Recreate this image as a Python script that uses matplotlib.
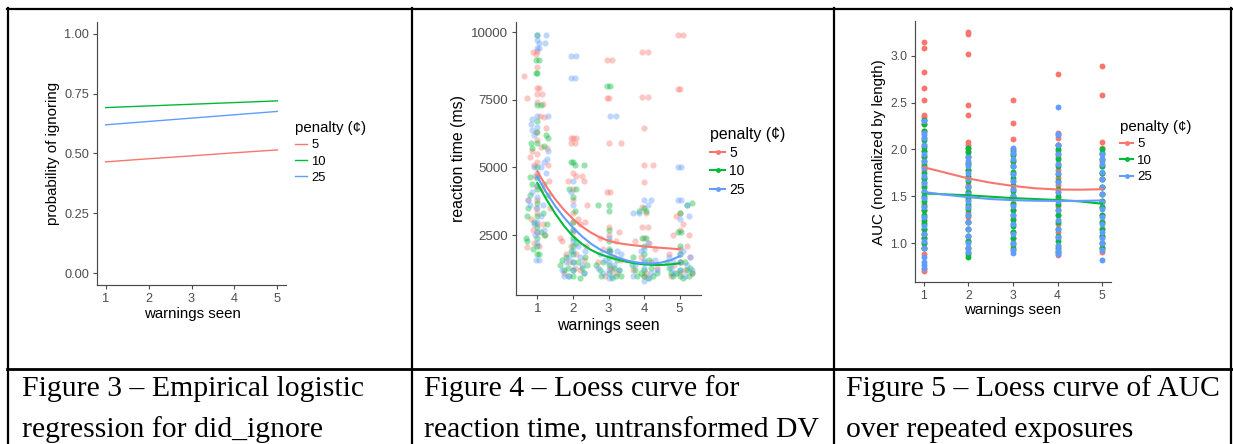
import matplotlib
matplotlib.use("Agg")
import matplotlib.pyplot as plt
import matplotlib.transforms as mtransforms
from matplotlib.lines import Line2D
import numpy as np

W, H = 1233, 444

# ---------------- data ----------------
warnings = [1, 2, 3, 4, 5]
penalties = ["5", "10", "25"]
colors = {"5": "#F8766D", "10": "#00BA38", "25": "#619CFF"}

# Figure 3: empirical logistic regression (probability of ignoring)
prob_ignore = {
    "5":  [0.465, 0.478, 0.490, 0.503, 0.515],
    "10": [0.692, 0.699, 0.706, 0.713, 0.720],
    "25": [0.620, 0.634, 0.648, 0.662, 0.676],
}

# Figure 4: reaction time scatter (jittered warnings seen, ms)
rt_points = {
    "5": [
        (0.62, 8380), (0.72, 7550), (0.88, 9270), (0.95, 9200), (1.0, 9300), (1.0, 7950), (1.0, 7700),
        (1.0, 7400), (1.05, 7950), (1.13, 7700), (1.15, 7350), (1.2, 6850), (1.25, 6450), (1.0, 6000),
        (1.0, 5500), (1.0, 5200), (1.0, 4800), (1.0, 4300), (1.0, 3800), (1.0, 3300), (1.0, 2900),
        (1.0, 2600), (0.8, 5400), (0.85, 5600), (0.9, 5100), (0.92, 4700), (1.1, 5750), (1.27, 5700),
        (1.3, 5100), (1.32, 4500), (0.75, 3800), (0.83, 3100), (0.7, 2050), (0.9, 2200), (1.15, 2900),
        (1.2, 2500), (1.35, 3500), (1.12, 4200), (0.95, 6300), (1.08, 6900), (1.0, 8700), (0.97, 3500),
        (0.88, 2700), (1.05, 2100),
        (1.95, 6100), (2.0, 6100), (2.1, 6100), (1.95, 5900), (2.05, 5900), (2.0, 4800), (2.1, 4700),
        (2.25, 4700), (2.3, 4500), (1.85, 4500), (2.0, 4200), (2.0, 3800), (2.0, 3300), (2.0, 3000),
        (2.15, 3100), (2.2, 2900), (2.35, 3000), (1.7, 2300), (1.65, 2400), (2.38, 2100), (2.4, 3600),
        (2.0, 2600), (1.8, 1800), (1.9, 1500), (2.05, 1300), (2.2, 1200), (2.3, 1600), (1.75, 1100),
        (2.1, 1800), (1.95, 2100),
        (2.95, 8950), (3.1, 8950), (2.95, 7550), (3.0, 7550), (3.0, 5900), (3.35, 5900), (2.95, 4100),
        (3.05, 4100), (3.0, 2800), (3.0, 2500), (2.75, 2400), (3.2, 2300), (3.3, 2600), (2.85, 2000),
        (3.0, 1900), (3.15, 1700), (2.7, 1500), (3.05, 1300), (3.25, 1100), (2.9, 1000), (3.35, 1600),
        (3.1, 1200),
        (3.95, 9250), (4.1, 9250), (3.95, 7600), (4.1, 7600), (4.0, 6450), (4.0, 5100), (4.25, 5100),
        (4.0, 4450), (3.95, 3550), (4.05, 3300), (3.95, 2800), (4.1, 2800), (4.0, 2400), (4.15, 2200),
        (3.75, 2300), (4.3, 2000), (3.9, 1700), (4.2, 1500), (3.7, 1200), (4.05, 1100), (4.35, 1300),
        (4.0, 1000),
        (4.95, 9900), (5.1, 9900), (4.95, 7900), (5.0, 7900), (5.0, 3300), (4.9, 3200), (5.1, 2900),
        (5.0, 2700), (5.25, 2500), (4.8, 2500), (5.2, 2100), (5.0, 2000), (4.7, 1800), (5.3, 1700),
        (5.05, 1500), (4.85, 1400), (5.15, 1200), (5.35, 1100), (4.75, 1000), (5.0, 1100),
    ],
    "10": [
        (1.0, 9900), (0.95, 8950), (1.05, 8950), (0.95, 8500), (1.0, 8500), (1.0, 7300), (1.1, 7300),
        (1.0, 6700), (1.0, 6300), (1.0, 5900), (1.25, 6200), (1.3, 6100), (1.2, 5800), (0.83, 5900),
        (0.85, 5700), (0.78, 4650), (0.85, 4400), (0.8, 4000), (0.75, 3500), (0.72, 3200), (0.68, 2400),
        (0.7, 2300), (1.0, 5000), (1.0, 4600), (1.0, 4200), (1.0, 3700), (1.0, 3200), (1.0, 2800),
        (1.0, 2400), (1.0, 2100), (1.0, 1800), (1.05, 1800), (1.1, 2600), (1.15, 3300), (1.3, 4000),
        (1.28, 2900), (1.22, 2500), (0.9, 3000), (0.88, 2000), (1.18, 4400),
        (2.0, 5200), (1.95, 5200), (2.05, 5100), (2.3, 5100), (2.1, 4200), (1.9, 4200), (2.0, 3900),
        (2.05, 3400), (2.0, 3000), (2.0, 2700), (2.0, 2400), (2.0, 2100), (2.0, 1800), (2.0, 1500),
        (2.0, 1200), (2.0, 1000), (1.7, 1600), (1.65, 1400), (1.75, 1200), (1.8, 1700), (1.85, 1300),
        (2.15, 1500), (2.25, 1300), (2.3, 1100), (2.2, 900), (1.9, 1000), (2.35, 1700), (2.1, 2200),
        (2.4, 1400), (1.95, 1900),
        (2.95, 8000), (3.05, 8000), (3.0, 3600), (2.7, 3600), (3.0, 3400), (3.0, 2700), (3.0, 2300),
        (3.0, 2000), (3.0, 1700), (3.0, 1400), (3.0, 1100), (2.75, 1200), (2.8, 1000), (3.15, 1300),
        (3.2, 1000), (3.3, 1200), (2.65, 1400), (3.25, 1600), (2.85, 1500), (3.1, 900), (3.35, 1000),
        (3.05, 1900),
        (4.0, 3500), (3.85, 3400), (4.05, 3400), (3.95, 2400), (4.05, 2400), (4.0, 2100), (4.0, 1800),
        (4.0, 1500), (4.0, 1200), (4.0, 1000), (3.7, 1700), (3.75, 1200), (3.8, 1000), (4.2, 1300),
        (4.25, 1000), (4.35, 1100), (4.15, 1600), (3.65, 1400), (4.1, 900), (3.9, 1100),
        (5.0, 3300), (5.35, 3700), (5.2, 3600), (4.95, 2600), (5.05, 2600), (5.0, 2100), (5.0, 1800),
        (5.0, 1500), (5.0, 1200), (5.0, 1000), (4.7, 1300), (4.75, 1100), (4.8, 1000), (5.2, 1200),
        (5.25, 1000), (5.35, 1100), (5.15, 1500), (4.65, 1500), (5.1, 900), (4.9, 1100), (5.3, 1300),
    ],
    "25": [
        (1.0, 9900), (1.0, 9700), (1.05, 9600), (1.0, 9400), (1.05, 9400), (1.25, 9900), (1.22, 9600),
        (0.85, 6800), (0.83, 6600), (0.85, 6400), (0.9, 6200), (1.0, 6900), (1.0, 6500), (1.3, 6900),
        (1.3, 5600), (1.28, 5300), (1.2, 5200), (1.1, 5000), (1.0, 4700), (1.0, 4300), (1.0, 3900),
        (1.0, 3500), (1.0, 3000), (1.0, 2600), (1.0, 2200), (0.95, 1600), (1.05, 1600), (0.85, 4100),
        (0.75, 3800), (0.8, 3600), (0.9, 2900), (0.92, 2500), (1.15, 3600), (1.1, 3200), (1.2, 2700),
        (1.25, 4800), (0.9, 5000),
        (1.95, 9100), (2.1, 9100), (1.95, 8300), (2.05, 8300), (2.0, 4500), (1.95, 4100), (2.0, 3600),
        (2.0, 2700), (2.0, 2300), (2.0, 1900), (2.0, 1500), (2.0, 1200), (1.75, 1000), (1.7, 1200),
        (1.8, 1500), (2.2, 1700), (2.25, 1400), (2.3, 1100), (2.15, 2100), (1.85, 1000), (2.35, 1900),
        (1.9, 1700),
        (3.05, 6900), (3.2, 6900), (3.0, 2400), (3.0, 1900), (3.0, 1500), (3.0, 1200), (3.0, 900),
        (2.75, 1800), (2.7, 1300), (3.15, 1400), (3.25, 1900), (3.3, 1200), (2.85, 1100), (3.35, 1800),
        (2.9, 1600), (3.1, 1000),
        (4.0, 3800), (4.2, 3800), (4.1, 3600), (3.7, 3300), (3.85, 3300), (4.0, 2000), (4.0, 1600),
        (4.0, 1300), (4.0, 800), (3.75, 1400), (3.7, 1000), (4.2, 1100), (4.3, 1600), (4.35, 1200),
        (3.9, 1900), (4.15, 900), (4.1, 2200),
        (4.95, 5000), (5.05, 5000), (4.95, 3800), (5.05, 3800), (5.2, 3600), (5.25, 3200), (5.0, 3100),
        (5.0, 1800), (5.0, 1500), (5.0, 1200), (4.7, 1700), (4.75, 1300), (4.8, 1500), (5.2, 1400),
        (5.3, 1700), (5.35, 1200), (5.15, 1000), (4.85, 1100), (5.1, 1900),
    ],
}

# Figure 4: loess curves for reaction time
rt_curve_x = [1.0, 1.25, 1.5, 1.75, 2.0, 2.25, 2.5, 2.75, 3.0, 3.25, 3.5, 3.75, 4.0, 4.25, 4.5, 4.75, 5.0]
rt_curve = {
    "5":  [4850, 4300, 3830, 3430, 3100, 2820, 2600, 2420, 2290, 2210, 2160, 2120, 2085, 2055, 2030, 2005, 1980],
    "10": [4420, 3830, 3300, 2840, 2460, 2180, 1960, 1800, 1690, 1600, 1520, 1460, 1420, 1400, 1400, 1420, 1460],
    "25": [4650, 4080, 3580, 3150, 2780, 2460, 2190, 1980, 1820, 1680, 1570, 1500, 1460, 1450, 1490, 1580, 1720],
}

# Figure 5: AUC values per warnings seen
auc_points = {
    "5": {
        1: [0.70, 0.72, 0.88, 0.95, 1.00, 1.05, 1.10, 1.15, 1.22, 1.28, 1.35, 1.42, 1.48, 1.55, 1.62, 1.70,
            1.78, 1.85, 1.92, 1.98, 2.05, 2.12, 2.20, 2.27, 2.32, 2.35, 2.37, 2.53, 2.66, 2.83, 3.08, 3.15],
        2: [0.90, 0.95, 1.02, 1.08, 1.15, 1.22, 1.28, 1.33, 1.40, 1.46, 1.55, 1.62, 1.70, 1.78, 1.86, 1.93,
            1.98, 2.02, 2.05, 2.08, 2.37, 2.48, 3.02, 3.24, 3.26],
        3: [0.92, 0.98, 1.05, 1.12, 1.20, 1.27, 1.35, 1.43, 1.50, 1.58, 1.66, 1.74, 1.82, 1.88, 1.95, 2.00,
            2.11, 2.28, 2.53],
        4: [0.87, 0.90, 0.97, 1.05, 1.12, 1.20, 1.30, 1.40, 1.48, 1.55, 1.62, 1.70, 1.78, 1.85, 1.92, 1.98,
            2.05, 2.12, 2.18, 2.81],
        5: [0.90, 0.95, 1.00, 1.08, 1.15, 1.22, 1.30, 1.38, 1.45, 1.52, 1.60, 1.68, 1.75, 1.82, 1.88, 1.95,
            2.02, 2.08, 2.58, 2.89],
    },
    "10": {
        1: [0.95, 1.00, 1.05, 1.10, 1.15, 1.20, 1.25, 1.30, 1.35, 1.40, 1.45, 1.50, 1.55, 1.60, 1.65, 1.70,
            1.75, 1.82, 1.88, 1.93, 1.98, 2.03, 2.10, 2.20, 2.27, 2.32],
        2: [0.85, 0.88, 0.95, 1.02, 1.08, 1.15, 1.22, 1.30, 1.36, 1.42, 1.48, 1.55, 1.60, 1.66, 1.72, 1.78,
            1.85, 1.92, 1.97, 2.02],
        3: [0.95, 1.00, 1.05, 1.12, 1.18, 1.25, 1.30, 1.35, 1.42, 1.50, 1.56, 1.62, 1.70, 1.76, 1.82, 1.88,
            1.94, 1.98],
        4: [0.90, 0.95, 1.02, 1.08, 1.15, 1.22, 1.30, 1.35, 1.42, 1.50, 1.58, 1.66, 1.74, 1.82, 1.90, 1.95,
            2.00, 2.05],
        5: [0.95, 1.00, 1.08, 1.15, 1.22, 1.30, 1.38, 1.45, 1.52, 1.60, 1.68, 1.75, 1.82, 1.90, 1.96, 2.00],
    },
    "25": {
        1: [0.73, 0.76, 0.80, 0.85, 0.95, 1.02, 1.10, 1.18, 1.28, 1.38, 1.48, 1.56, 1.64, 1.72, 1.80, 1.88,
            1.95, 2.05, 2.12, 2.15, 2.18, 2.30],
        2: [0.90, 0.95, 1.00, 1.08, 1.15, 1.22, 1.30, 1.38, 1.45, 1.52, 1.60, 1.68, 1.75, 1.82, 1.88, 1.92],
        3: [0.89, 0.92, 1.00, 1.10, 1.20, 1.30, 1.40, 1.50, 1.58, 1.66, 1.74, 1.82, 1.90, 1.96, 2.02],
        4: [0.88, 0.92, 0.98, 1.06, 1.15, 1.25, 1.35, 1.45, 1.55, 1.65, 1.75, 1.85, 1.95, 2.05, 2.15, 2.17, 2.45],
        5: [0.82, 0.92, 1.00, 1.05, 1.12, 1.20, 1.28, 1.36, 1.44, 1.52, 1.60, 1.68, 1.76, 1.84, 1.90, 1.95],
    },
}

auc_curve_x = [1.0, 1.5, 2.0, 2.5, 3.0, 3.5, 4.0, 4.5, 5.0]
auc_curve = {
    "5":  [1.81, 1.75, 1.69, 1.645, 1.61, 1.585, 1.572, 1.570, 1.575],
    "10": [1.53, 1.52, 1.51, 1.495, 1.48, 1.47, 1.46, 1.445, 1.42],
    "25": [1.545, 1.515, 1.49, 1.47, 1.458, 1.452, 1.45, 1.45, 1.455],
}

captions = [
    ("Figure 3 \u2013 Empirical logistic", "regression for did_ignore"),
    ("Figure 4 \u2013 Loess curve for", "reaction time, untransformed DV"),
    ("Figure 5 \u2013 Loess curve of AUC", "over repeated exposures"),
]

# ---------------- figure ----------------
plt.rcParams["font.family"] = ["Liberation Sans", "DejaVu Sans"]
fig = plt.figure(figsize=(W / 100, H / 100), dpi=100)
fig.patch.set_facecolor("white")
pxT = mtransforms.Affine2D().scale(1 / W, -1 / H).translate(0, 1) + fig.transFigure

AX_COL = "#4a4a4a"
TXT_COL = "#4D4D4D"


def px_axes(l, t, r, b):
    return fig.add_axes([l / W, 1 - b / H, (r - l) / W, (b - t) / H])


def style(ax, tick_fs):
    for s in ("top", "right"):
        ax.spines[s].set_visible(False)
    for s in ("left", "bottom"):
        ax.spines[s].set_color(AX_COL)
        ax.spines[s].set_linewidth(0.85)
    ax.tick_params(direction="out", length=3.0, width=0.8, color=AX_COL,
                   labelsize=tick_fs, labelcolor=TXT_COL, pad=2.5)
    ax.set_facecolor("white")


def set_labels(ax, xl, yl, xpos, ypos, fs):
    ax.set_xlabel(xl, fontsize=fs, color="black")
    ax.set_ylabel(yl, fontsize=fs, color="black")
    ax.xaxis.set_label_coords(xpos[0], xpos[1], transform=pxT)
    ax.yaxis.set_label_coords(ypos[0], ypos[1], transform=pxT)
    ax.xaxis.label.set_va("center")
    ax.yaxis.label.set_va("center")


def add_legend(ax, handles, pos, title_fs, label_fs, hl, spacing):
    leg = ax.legend(handles, penalties, title="penalty (\u00a2)", loc="upper left",
                    bbox_to_anchor=pos, bbox_transform=pxT, frameon=False,
                    borderaxespad=0, borderpad=0, handlelength=hl, handletextpad=0.3,
                    labelspacing=spacing, fontsize=label_fs, title_fontsize=title_fs,
                    alignment="left")
    return leg


# ---- Panel 1 ----
ax1 = px_axes(97, 22, 286, 285)
for p in penalties:
    ax1.plot(warnings, prob_ignore[p], color=colors[p], lw=1.0)
ax1.set_xlim(0.8, 5.2)
ax1.set_ylim(-0.05, 1.05)
ax1.set_xticks(warnings)
ax1.set_yticks([0, 0.25, 0.5, 0.75, 1.0])
ax1.set_yticklabels(["0.00", "0.25", "0.50", "0.75", "1.00"])
style(ax1, 9.2)
set_labels(ax1, "warnings seen", "probability of ignoring", (192, 314), (53, 153), 10.8)
h1 = [Line2D([], [], color=colors[p], lw=1.0) for p in penalties]
add_legend(ax1, h1, (295, 121), 10.8, 9.4, 0.95, 0.32)

# ---- Panel 2 ----
ax2 = px_axes(516, 22, 701, 295)
for p in penalties:
    pts = np.array(rt_points[p])
    ax2.scatter(pts[:, 0], pts[:, 1], s=20, color=colors[p], alpha=0.4, linewidths=0)
for p in penalties:
    ax2.plot(rt_curve_x, rt_curve[p], color=colors[p], lw=1.5)
ax2.set_xlim(0.4, 5.6)
ax2.set_ylim(290, 10370)
ax2.set_xticks(warnings)
ax2.set_yticks([2500, 5000, 7500, 10000])
style(ax2, 9.6)
set_labels(ax2, "warnings seen", "reaction time (ms)", (608, 325), (459, 158), 11.4)
h2 = [Line2D([], [], color=colors[p], lw=1.5, marker="o", ms=3.5, markeredgewidth=0)
      for p in penalties]
add_legend(ax2, h2, (710, 127), 11.4, 10.0, 1.1, 0.3)

# ---- Panel 3 ----
ax3 = px_axes(915, 21, 1111, 282)
for p in penalties:
    for w in warnings:
        vals = auc_points[p][w]
        ax3.scatter([w] * len(vals), vals, s=18, color=colors[p], linewidths=0)
for p in penalties:
    ax3.plot(auc_curve_x, auc_curve[p], color=colors[p], lw=1.5)
ax3.set_xlim(0.8, 5.2)
ax3.set_ylim(0.583, 3.374)
ax3.set_xticks(warnings)
ax3.set_yticks([1.0, 1.5, 2.0, 2.5, 3.0])
ax3.set_yticklabels(["1.0", "1.5", "2.0", "2.5", "3.0"])
style(ax3, 8.8)
set_labels(ax3, "warnings seen", "AUC (normalized by length)", (1013, 310), (879, 152), 10.9)
h3 = [Line2D([], [], color=colors[p], lw=1.5, marker="o", ms=3.5, markeredgewidth=0)
      for p in penalties]
add_legend(ax3, h3, (1120, 120), 10.9, 9.5, 1.0, 0.32)

# ---- table borders ----
def hline(y, x0, x1, lw=1.6):
    fig.add_artist(Line2D([x0, x1], [y, y], transform=pxT, color="black", lw=lw))


def vline(x, y0, y1, lw=1.6):
    fig.add_artist(Line2D([x, x], [y0, y1], transform=pxT, color="black", lw=lw))


hline(9, 7, 1232)
hline(369, 7, 1232, lw=2.0)
vline(8, 8, 444)
vline(411.5, 8, 444)
vline(833.5, 8, 444)
vline(1231, 8, 444)

# ---- captions ----
cap_x = [22, 424, 846]
for cx, (l1, l2) in zip(cap_x, captions):
    fig.text(cx, 396, l1, transform=pxT, fontsize=21.4, family=["Liberation Serif", "DejaVu Serif"],
             va="baseline", ha="left", color="black")
    fig.text(cx, 437, l2, transform=pxT, fontsize=21.4, family=["Liberation Serif", "DejaVu Serif"],
             va="baseline", ha="left", color="black")

fig.savefig("out.png", dpi=100, facecolor="white")
